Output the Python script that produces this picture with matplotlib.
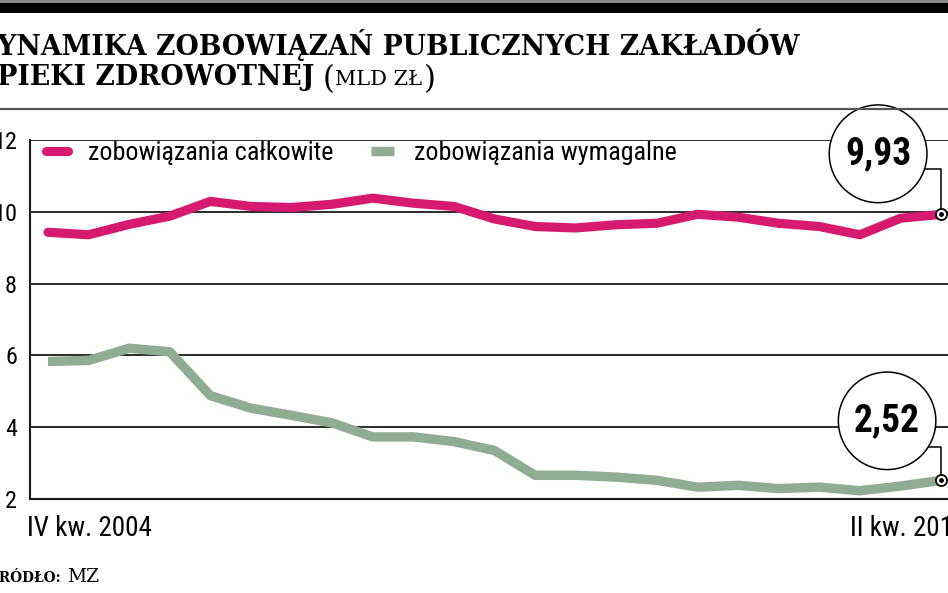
import matplotlib
matplotlib.use('Agg')
import matplotlib.pyplot as plt
from matplotlib.patches import Rectangle
from matplotlib.lines import Line2D

# ---------------- data ----------------
quarters = ['IV kw. 2004',
            'I kw. 2005', 'II kw. 2005', 'III kw. 2005', 'IV kw. 2005',
            'I kw. 2006', 'II kw. 2006', 'III kw. 2006', 'IV kw. 2006',
            'I kw. 2007', 'II kw. 2007', 'III kw. 2007', 'IV kw. 2007',
            'I kw. 2008', 'II kw. 2008', 'III kw. 2008', 'IV kw. 2008',
            'I kw. 2009', 'II kw. 2009', 'III kw. 2009', 'IV kw. 2009',
            'I kw. 2010', 'II kw. 2010']
calkowite = [9.43, 9.36, 9.65, 9.88, 10.29, 10.15, 10.12, 10.21, 10.38, 10.24,
             10.15, 9.80, 9.59, 9.55, 9.64, 9.68, 9.93, 9.85, 9.68, 9.59,
             9.36, 9.82, 9.93]
wymagalne = [5.83, 5.86, 6.20, 6.10, 4.88, 4.53, 4.33, 4.12, 3.73, 3.73,
             3.60, 3.35, 2.66, 2.66, 2.61, 2.52, 2.33, 2.38, 2.29, 2.33,
             2.23, 2.36, 2.52]
series_names = ['zobowiązania całkowite', 'zobowiązania wymagalne']
y_ticks = [2, 4, 6, 8, 10, 12]
x_tick_labels = ['IV kw. 2004', 'II kw. 2010']
title_bold_1 = 'DYNAMIKA ZOBOWIĄZAŃ PUBLICZNYCH ZAKŁADÓW'
title_bold_2 = 'OPIEKI ZDROWOTNEJ'
title_unit = 'MLD ZŁ'
source_label = 'ŹRÓDŁO:'
source_value = 'MZ'

PINK = '#d61a70'
GREEN = '#90ad94'
NARROW = ['Roboto Condensed', 'Noto Sans Condensed', 'DejaVu Sans']
SERIF = ['DejaVu Serif']

W, H, DPI = 948, 593, 100
fig = plt.figure(figsize=(W / DPI, H / DPI), dpi=DPI)
fig.patch.set_facecolor('white')

def px(v):  # pixels -> points
    return v * 72.0 / DPI

def nfont(size, weight='normal'):
    return dict(family=NARROW, fontsize=size, fontweight=weight,
                fontstretch='condensed')

# ---------------- decorations (top bar, rule) ----------------
fig.add_artist(Rectangle((0, 1 - 3 / H), 1, 3 / H, transform=fig.transFigure,
                         fc='#8a8a8a', ec='none'))
fig.add_artist(Rectangle((0, 1 - 13 / H), 1, 10 / H, transform=fig.transFigure,
                         fc='black', ec='none'))
fig.add_artist(Line2D([0, 1], [1 - 109 / H, 1 - 109 / H], transform=fig.transFigure,
                      color='#555555', lw=1.6))

# ---------------- axes ----------------
ax = fig.add_axes([30 / W, (H - 499) / H, (W - 30) / W, (499 - 140) / H])
x = list(range(len(quarters)))
ax.plot(x, calkowite, color=PINK, lw=6.6, solid_capstyle='round',
        solid_joinstyle='round', label=series_names[0], zorder=3)
ax.plot(x, wymagalne, color=GREEN, lw=6.8, solid_capstyle='butt',
        solid_joinstyle='round', label=series_names[1], zorder=3)

ax.set_ylim(2, 12)
ax.set_xlim(-0.443, 22.17)
ax.set_yticks(y_ticks)
ax.set_yticklabels([str(v) for v in y_ticks], **nfont(17.5))
ax.tick_params(axis='y', length=0, pad=px(13))
ax.set_xticks([])
ax.yaxis.grid(True, color='#1a1a1a', lw=1.3, zorder=1)
ax.set_axisbelow(True)
for s in ['top', 'right']:
    ax.spines[s].set_visible(False)
for s in ['left', 'bottom']:
    ax.spines[s].set_color('#1a1a1a')
    ax.spines[s].set_linewidth(1.5)

# x labels (first and last quarter)
ax.annotate(x_tick_labels[0], xy=(x[0], 0), xycoords=('data', 'axes fraction'),
            xytext=(px(-21), px(-30)), textcoords='offset points',
            ha='left', va='center', annotation_clip=False, **nfont(19.5))
ax.annotate(x_tick_labels[1], xy=(x[-1], 0), xycoords=('data', 'axes fraction'),
            xytext=(px(-91), px(-30)), textcoords='offset points',
            ha='left', va='center', annotation_clip=False, **nfont(19.5))

# legend
leg = ax.legend(loc='center left', bbox_to_anchor=(0, 0.964), ncol=2, frameon=False,
                prop={'family': NARROW, 'size': 18.7, 'stretch': 'condensed'},
                handlelength=0.85, handletextpad=0.8, columnspacing=1.45,
                borderpad=0, borderaxespad=0.6)

# end-value callouts
callouts = [(calkowite, (-63, 60.5), 0.1), (wymagalne, (-54, 59.5), -0.22)]
for ser, (dx, dy), rely in callouts:
    val = ser[-1]
    ax.annotate(f'{val:.2f}'.replace('.', ','), xy=(x[-1], val),
                xytext=(px(dx), px(dy)), textcoords='offset points',
                ha='center', va='center', zorder=6, annotation_clip=False,
                bbox=dict(boxstyle='circle,pad=0.42', fc='white', ec='black', lw=1.1),
                arrowprops=dict(arrowstyle='-', color='black', lw=1.1,
                                connectionstyle='angle,angleA=0,angleB=90,rad=0',
                                shrinkA=0, shrinkB=0, relpos=(1, rely)),
                **nfont(27, 'bold'))
    ax.plot([x[-1]], [val], 'o', ms=8, mfc='white', mec='black', mew=1.3,
            zorder=7, clip_on=False)
    ax.plot([x[-1]], [val], 'o', ms=2.5, mfc='black', mec='black',
            zorder=8, clip_on=False)

# ---------------- title ----------------
x0 = -26 / W
t1 = fig.text(x0, 1 - 55 / H, title_bold_1, family=SERIF, fontweight='bold',
              fontsize=19.3, va='baseline', ha='left')
t2 = fig.text(x0, 1 - 85 / H, title_bold_2, family=SERIF, fontweight='bold',
              fontsize=19.3, va='baseline', ha='left')
fig.canvas.draw()
r = fig.canvas.get_renderer()
bb = t2.get_window_extent(r)
p1 = fig.text((bb.x1 + 8) / W, 1 - 88 / H, '(', family=SERIF, fontsize=22,
              va='baseline', ha='left')
fig.canvas.draw()
bbp = p1.get_window_extent(r)
u = fig.text((bbp.x1 + 1) / W, 1 - 85 / H, title_unit, family=SERIF, fontsize=15,
             va='baseline', ha='left')
fig.canvas.draw()
bbu = u.get_window_extent(r)
fig.text((bbu.x1 + 1) / W, 1 - 88 / H, ')', family=SERIF, fontsize=22,
         va='baseline', ha='left')

# ---------------- source ----------------
s1 = fig.text(-10 / W, 1 - 582 / H, source_label, family=SERIF, fontweight='bold',
              fontsize=9.8, va='baseline', ha='left')
fig.canvas.draw()
bbs = s1.get_window_extent(r)
fig.text((bbs.x1 + 5) / W, 1 - 582 / H, source_value, family=SERIF,
         fontsize=13.5, va='baseline', ha='left')

fig.savefig('out.png', dpi=DPI)
